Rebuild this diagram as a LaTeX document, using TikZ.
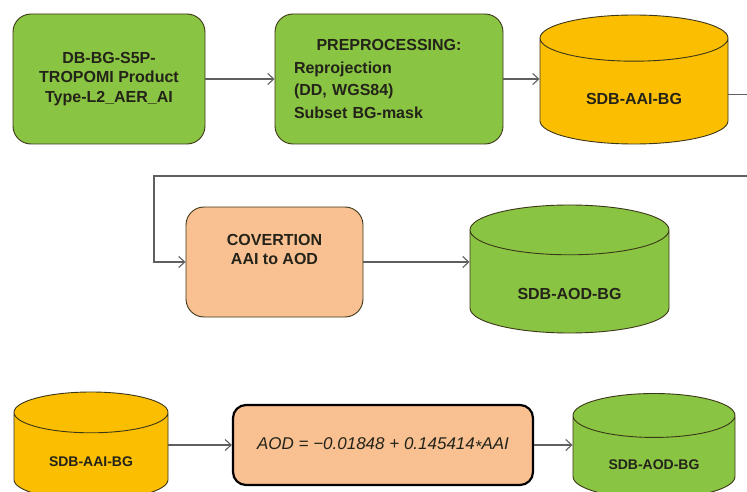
\documentclass[tikz,border=0pt]{standalone}
\usepackage{fontspec}
\setmainfont{Liberation Sans}
\definecolor{flowgreen}{RGB}{137,196,66}
\definecolor{flowamber}{RGB}{252,190,0}
\definecolor{flowpeach}{RGB}{249,192,145}
\definecolor{flowline}{RGB}{95,95,95}
\definecolor{flowedge}{RGB}{60,55,25}
\definecolor{flowtext}{RGB}{35,35,25}
\usetikzlibrary{shapes,arrows.meta,positioning}

\begin{document}
\begin{tikzpicture}[x=1pt,y=1pt,
    >={Straight Barb[length=6pt,width=11pt]},
    procbox/.style={rectangle, rounded corners=18pt, draw=flowedge, line width=0.9pt, text=flowtext, font=\fontsize{16}{19.5}\selectfont\bfseries, align=center},
    dbcyl/.style={cylinder, shape border rotate=90, aspect=0.45, draw=flowedge, line width=0.9pt, text=flowtext, font=\fontsize{16}{19}\selectfont\bfseries, anchor=shape center},
    flow/.style={->, draw=flowline, line width=1.1pt}
]
    \useasboundingbox[fill=white] (0,0) rectangle (747,491);
    \clip (0,0) rectangle (747,491);

    % first row
    \node[procbox, fill=flowgreen, minimum width=192, minimum height=130] (src) at (109,412)
        {DB-BG-S5P-\\TROPOMI Product\\Type-L2\_AER\_AI};
    \node[procbox, fill=flowgreen, minimum width=228, minimum height=130, text width=190, align=left,
        font=\fontsize{16}{22.5}\selectfont\bfseries] (prep) at (389,412)
        {\null\hfill PREPROCESSING:\hfill\null\\Reprojection\\(DD, WGS84)\\Subset BG-mask};
    \node[dbcyl, fill=flowamber, minimum width=188, minimum height=129, text height=21.5pt] (aai) at (634,411.5) {SDB-AAI-BG};

    % second row
    \node[procbox, fill=flowpeach, minimum width=177, minimum height=110] (conv) at (274.5,229)
        {COVERTION\\AAI to AOD\\[6pt]\mbox{}};
    \node[dbcyl, fill=flowgreen, minimum width=199, minimum height=128, text height=29.5pt] (aod) at (569.5,222) {SDB-AOD-BG};

    % third row
    \node[dbcyl, fill=flowamber, minimum width=154, minimum height=108, text height=14pt,
        font=\fontsize{14}{17}\selectfont\bfseries] (aaib) at (91,45) {SDB-AAI-BG};
    \node[procbox, fill=flowpeach, draw=black, line width=2.2pt, rounded corners=13pt, minimum width=300, minimum height=80,
        font=\fontsize{17}{20}\selectfont\mdseries\itshape] (formula) at (383,46)
        {AOD = −0.01848 + 0.145414\raisebox{-0.35ex}{*}AAI};
    \node[dbcyl, fill=flowgreen, minimum width=162, minimum height=105, text height=18pt,
        font=\fontsize{14}{17}\selectfont\bfseries] (aodb) at (654,45) {SDB-AOD-BG};

    \coordinate (loopR) at (765,315);
    \coordinate (loopL) at (154,315);

    \draw[flow] (src) -- (prep);
    \draw[flow] (prep.east) -- (prep.east -| aai.west);
    \draw[flow] (aai.east) -| (loopR) -- (loopL) |- (conv.west);
    \draw[flow] (conv.east) -- (conv.east -| aod.west);
    \draw[flow] (aaib.east |- formula.west) -- (formula.west);
    \draw[flow] (formula.east) -- (formula.east -| aodb.west);
\end{tikzpicture}
\end{document}
